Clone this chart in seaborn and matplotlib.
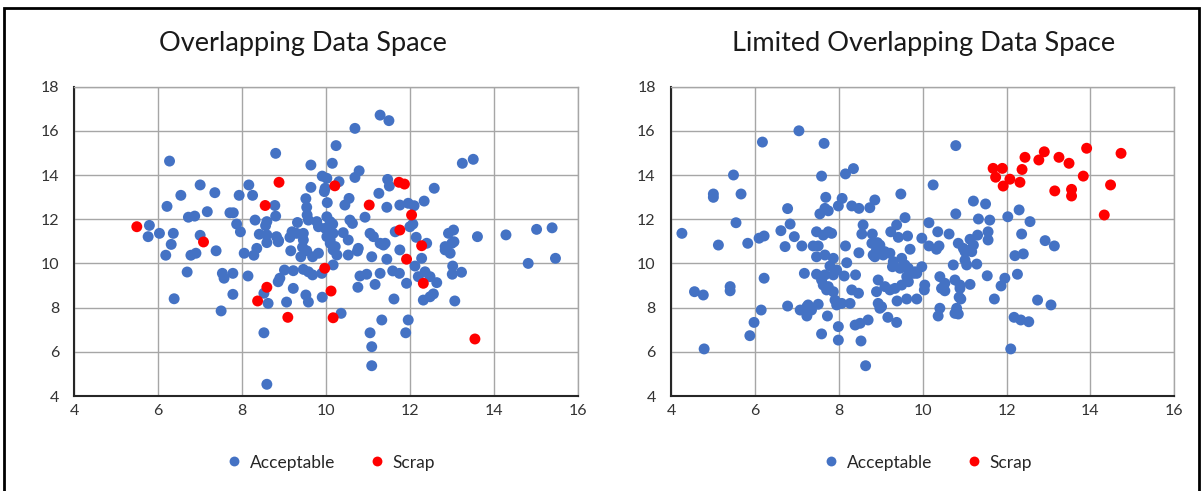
import numpy as np
import pandas as pd
import matplotlib
matplotlib.use("Agg")
import matplotlib.pyplot as plt
from matplotlib.patches import Rectangle
import seaborn as sns

# ---- Overlapping data space ----
left_ok_x = [6.27, 8.80, 9.64, 9.91, 7.00, 8.16, 9.64, 6.54, 7.35, 7.93, 8.25, 6.21, 9.52, 8.78, 9.54,
             6.72, 6.87, 7.17, 7.71, 7.79, 8.80, 9.55, 8.31, 8.59, 9.32, 9.78, 10.02, 5.79, 5.76, 6.03,
             6.36, 7.00, 6.31, 7.87, 7.96, 8.41, 8.56, 8.59, 8.82, 8.87, 9.14, 9.30, 9.46, 9.46, 9.82,
             9.98, 6.18, 6.78, 6.90, 7.38, 8.05, 8.28, 8.35, 8.59, 8.86, 9.16, 9.40, 9.44, 9.68, 9.82,
             6.69, 7.53, 7.57, 7.78, 8.14, 9.01, 9.22, 9.46, 9.58, 9.68, 9.90, 8.86, 8.90, 8.52, 9.22,
             9.52, 9.58, 9.91, 6.38, 7.78, 8.62, 9.06, 7.50, 8.52, 8.59, 11.29, 11.50, 10.69, 10.24, 10.15,
             13.25, 13.51, 10.79, 10.69, 10.02, 10.31, 9.98, 11.47, 11.51, 12.58, 11.26, 10.55, 10.45, 10.03,
             11.45, 11.76, 11.96, 12.10, 12.34, 10.93, 10.16, 10.57, 10.63, 12.00, 12.15, 11.65, 12.92, 13.04,
             13.61, 14.29, 15.02, 15.39, 10.41, 11.05, 11.13, 11.29, 11.41, 10.77, 10.10, 10.02, 12.84, 13.00,
             12.40, 14.82, 15.47, 10.36, 11.33, 11.96, 11.05, 11.90, 11.09, 11.09, 11.62, 12.32, 12.48, 12.56,
             13.07, 10.76, 11.17, 11.92, 10.81, 10.97, 11.29, 11.59, 11.75, 12.12, 12.20, 12.36, 12.48, 12.64,
             13.02, 13.01, 13.23, 12.96, 12.84, 12.28, 11.09, 11.45, 11.76, 10.53, 10.75, 10.22, 10.26, 10.17,
             11.37, 9.96, 9.58, 10.10, 12.07, 9.19, 10.10, 10.17, 10.53, 9.54, 10.17, 13.05]
left_ok_y = [14.63, 14.98, 14.45, 13.95, 13.55, 13.55, 13.44, 13.08, 13.20, 13.08, 13.08, 12.58, 12.93, 12.62, 12.54,
             12.09, 12.14, 12.34, 12.29, 12.29, 12.14, 12.19, 11.96, 11.89, 11.85, 11.89, 12.11, 11.72, 11.21, 11.36,
             11.36, 11.27, 10.86, 11.78, 11.43, 11.32, 11.71, 11.29, 11.21, 11.03, 11.18, 11.36, 11.36, 11.06, 11.66,
             11.59, 10.37, 10.37, 10.46, 10.57, 10.46, 10.37, 10.68, 10.94, 10.98, 10.57, 10.30, 10.73, 10.30, 10.46,
             9.61, 9.55, 9.33, 9.55, 9.43, 9.70, 9.67, 9.73, 9.62, 9.48, 9.55, 9.17, 9.33, 8.65, 8.87,
             8.57, 8.25, 8.47, 8.40, 8.60, 8.19, 8.25, 7.85, 6.86, 4.53, 16.71, 16.46, 16.11, 15.33, 14.53,
             14.53, 14.71, 14.19, 13.89, 13.85, 13.70, 13.40, 13.80, 13.50, 13.40, 13.17, 12.94, 12.64, 12.75,
             12.54, 12.64, 12.72, 12.61, 12.82, 12.09, 11.78, 11.96, 11.81, 11.66, 11.18, 11.43, 11.36, 11.51,
             11.21, 11.29, 11.54, 11.61, 11.39, 11.36, 11.21, 10.91, 10.91, 10.68, 10.91, 11.21, 10.76, 10.91,
             10.91, 10.00, 10.23, 7.74, 7.44, 7.44, 6.86, 6.86, 6.23, 5.37, 8.39, 8.34, 8.49, 8.62,
             8.30, 8.92, 9.05, 9.10, 9.43, 9.51, 9.55, 9.66, 9.55, 9.88, 9.40, 9.62, 9.40, 9.13,
             9.88, 9.51, 9.60, 10.46, 10.61, 10.23, 10.30, 10.19, 10.61, 10.38, 10.56, 10.76, 10.38, 9.93,
             10.83, 13.25, 11.96, 11.89, 11.78, 11.43, 11.06, 11.36, 11.06, 10.57, 10.61, 10.98]
left_scrap_x = [5.49, 7.08, 8.88, 8.55, 10.21, 11.03, 11.74, 11.87, 12.04, 11.76,
                12.28, 11.92, 9.97, 10.12, 12.32, 10.17, 8.59, 8.37, 9.09, 13.55]
left_scrap_y = [11.66, 10.97, 13.67, 12.62, 13.51, 12.64, 13.67, 13.59, 12.19, 11.51,
                10.80, 10.19, 9.78, 8.75, 9.10, 7.54, 8.92, 8.30, 7.56, 6.58]

# ---- Limited overlapping data space ----
right_ok_x = [7.05, 6.18, 7.65, 5.49, 7.59, 8.16, 8.35, 5.01, 5.01, 5.67, 9.48, 6.78, 7.69, 8.08, 7.99,
              7.67, 7.75, 7.55, 8.31, 8.48, 8.74, 8.86, 9.58, 4.26, 5.55, 5.13, 5.83, 6.10, 6.22, 6.62,
              6.84, 6.94, 6.72, 7.12, 7.39, 7.51, 7.47, 7.63, 7.75, 7.83, 8.16, 8.58, 8.55, 8.80, 8.79,
              8.92, 9.24, 9.38, 9.42, 9.64, 9.98, 9.70, 7.47, 7.67, 7.87, 7.79, 7.95, 8.19, 8.48, 8.40,
              8.13, 8.90, 8.82, 9.10, 9.22, 9.28, 9.50, 9.54, 9.98, 7.18, 7.47, 4.56, 4.77, 5.41, 5.41,
              6.22, 7.59, 7.75, 7.87, 7.91, 7.95, 8.07, 8.27, 8.31, 8.47, 8.90, 8.94, 9.10, 9.22, 9.34,
              9.50, 9.66, 9.78, 9.39, 9.62, 9.86, 8.94, 9.02, 9.17, 9.38, 6.15, 5.98, 5.88, 4.79, 6.78,
              7.08, 7.24, 7.27, 7.51, 7.35, 7.73, 7.99, 7.59, 7.99, 8.39, 8.51, 8.70, 8.53, 8.64, 10.79,
              10.25, 11.21, 11.50, 10.79, 11.33, 11.60, 12.03, 12.30, 12.56, 10.15, 10.36, 10.63, 12.36, 12.92,
              13.14, 10.85, 11.13, 11.31, 11.56, 11.56, 11.21, 10.39, 10.15, 11.01, 11.17, 11.01, 11.05, 11.29,
              10.73, 9.86, 10.41, 10.53, 10.45, 10.77, 10.89, 11.13, 10.05, 10.04, 11.54, 11.96, 11.87, 12.26,
              11.71, 10.91, 12.20, 12.40, 12.74, 13.06, 10.41, 10.37, 10.81, 10.85, 10.77, 12.18, 12.34, 12.53,
              12.10, 8.98, 8.86, 9.06, 10.33, 10.97, 11.13, 10.89, 10.87, 10.53, 9.62, 9.30, 9.58, 9.66,
              9.82, 9.46, 7.87, 7.67, 7.71, 7.63, 7.24, 8.98]
right_ok_y = [16.00, 15.49, 15.43, 14.00, 13.95, 14.05, 14.29, 13.14, 12.99, 13.14, 13.14, 12.48, 12.99, 12.94, 12.60,
              12.49, 12.38, 12.24, 12.60, 12.49, 12.52, 12.87, 12.07, 11.36, 11.84, 10.83, 10.91, 11.14, 11.24, 11.48,
              11.78, 11.21, 10.76, 10.79, 10.79, 10.79, 11.43, 11.28, 11.43, 11.36, 10.79, 11.74, 11.33, 11.33, 10.91,
              10.94, 11.43, 11.74, 11.18, 11.24, 11.14, 10.64, 10.30, 10.38, 10.23, 9.88, 9.70, 10.03, 10.48, 9.48,
              9.43, 10.61, 10.38, 10.53, 10.46, 9.85, 10.23, 9.85, 9.85, 9.55, 9.51, 8.72, 8.57, 8.95, 8.76,
              9.33, 9.25, 8.95, 8.72, 8.34, 8.12, 8.19, 8.19, 8.80, 8.65, 8.72, 9.25, 8.95, 8.80, 8.87,
              9.02, 9.17, 9.55, 8.30, 8.39, 8.39, 8.19, 8.04, 7.56, 7.33, 7.89, 7.33, 6.73, 6.13, 8.07,
              7.89, 7.62, 8.12, 8.15, 7.89, 7.62, 7.14, 6.81, 6.53, 7.21, 7.29, 7.44, 6.49, 5.37, 15.33,
              13.55, 12.82, 12.69, 12.24, 12.01, 11.96, 12.11, 12.42, 11.89, 11.84, 11.43, 11.33, 11.33, 11.03,
              10.79, 10.91, 11.09, 11.28, 11.43, 11.06, 10.83, 10.79, 10.79, 10.53, 10.53, 10.15, 9.93, 9.97,
              9.93, 9.55, 9.40, 9.10, 8.87, 9.25, 9.02, 9.05, 9.02, 8.80, 9.44, 9.33, 8.98, 9.51,
              8.39, 8.39, 10.35, 10.43, 8.34, 8.12, 7.97, 7.62, 7.97, 7.71, 7.74, 7.56, 7.44, 7.36,
              6.13, 10.83, 10.30, 10.38, 10.64, 10.68, 10.61, 8.87, 8.47, 8.76, 9.40, 10.08, 9.93, 9.78,
              9.62, 9.78, 9.48, 9.48, 8.80, 9.02, 8.04, 7.97]
right_scrap_x = [11.68, 11.90, 11.74, 12.08, 11.92, 12.32, 12.37, 12.44, 12.77, 12.90,
                 13.25, 13.49, 13.91, 14.73, 13.83, 14.48, 13.15, 13.55, 13.55, 14.33]
right_scrap_y = [14.30, 14.30, 13.90, 13.81, 13.50, 13.67, 14.25, 14.80, 14.68, 15.05,
                 14.80, 14.53, 15.21, 14.98, 13.95, 13.55, 13.28, 13.35, 13.05, 12.19]

titles = ["Overlapping Data Space", "Limited Overlapping Data Space"]
classes = ["Acceptable", "Scrap"]
palette = {"Acceptable": "#4472C4", "Scrap": "#FF0000"}
x_ticks = [4, 6, 8, 10, 12, 14, 16]
y_ticks = [4, 6, 8, 10, 12, 14, 16, 18]


def make_frame(ok_x, ok_y, scrap_x, scrap_y):
    ok = pd.DataFrame({"x": ok_x, "y": ok_y, "Status": classes[0]})
    scrap = pd.DataFrame({"x": scrap_x, "y": scrap_y, "Status": classes[1]})
    return pd.concat([ok, scrap], ignore_index=True)


frames = [
    make_frame(left_ok_x, left_ok_y, left_scrap_x, left_scrap_y),
    make_frame(right_ok_x, right_ok_y, right_scrap_x, right_scrap_y),
]

sns.set_theme(style="white")
plt.rcParams["font.family"] = ["Lato", "DejaVu Sans"]

W, H = 1204, 491
fig = plt.figure(figsize=(W / 100, H / 100), dpi=100)

# panel boxes in pixels: left, top, right, bottom
boxes = [(74.3, 86.6, 577.7, 396.0), (671.0, 86.6, 1174.3, 396.0)]
title_x = [303, 924]

for df, title, (l, t, r, b), tx in zip(frames, titles, boxes, title_x):
    ax = fig.add_axes([l / W, 1 - b / H, (r - l) / W, (b - t) / H])
    sns.scatterplot(data=df, x="x", y="y", hue="Status", hue_order=classes,
                    palette=palette, s=62, linewidth=0, alpha=1, ax=ax, zorder=3)
    ax.set_xlim(4, 16)
    ax.set_ylim(4, 18)
    ax.set_xticks(x_ticks)
    ax.set_yticks(y_ticks)
    ax.set_xlabel("")
    ax.set_ylabel("")
    ax.grid(True, color="#A6A6A6", linewidth=1.0)
    ax.set_axisbelow(True)
    ax.tick_params(axis="both", length=0, labelsize=11.5, colors="#333333")
    ax.tick_params(axis="y", pad=11)
    ax.tick_params(axis="x", pad=6)
    for side in ("top", "right"):
        ax.spines[side].set_color("#A6A6A6")
        ax.spines[side].set_linewidth(1.0)
    for side in ("left", "bottom"):
        ax.spines[side].set_color("#262626")
        ax.spines[side].set_linewidth(1.5)
    sns.move_legend(ax, "center", bbox_to_anchor=(0.5, -0.215), ncol=2, frameon=False,
                    title=None, fontsize=12.5, handletextpad=-0.1, columnspacing=1.4,
                    markerscale=0.9)
    fig.text(tx / W, 1 - 44 / H, title, ha="center", va="center", fontsize=19.5, color="#1a1a1a")

# outer frame around the whole graphic
fig.patches.append(Rectangle((4 / W, -0.01), (1199 - 4) / W, 1 - 8 / H + 0.01,
                             transform=fig.transFigure, fill=False,
                             edgecolor="black", linewidth=2.0))

fig.savefig("out.png", dpi=100)
